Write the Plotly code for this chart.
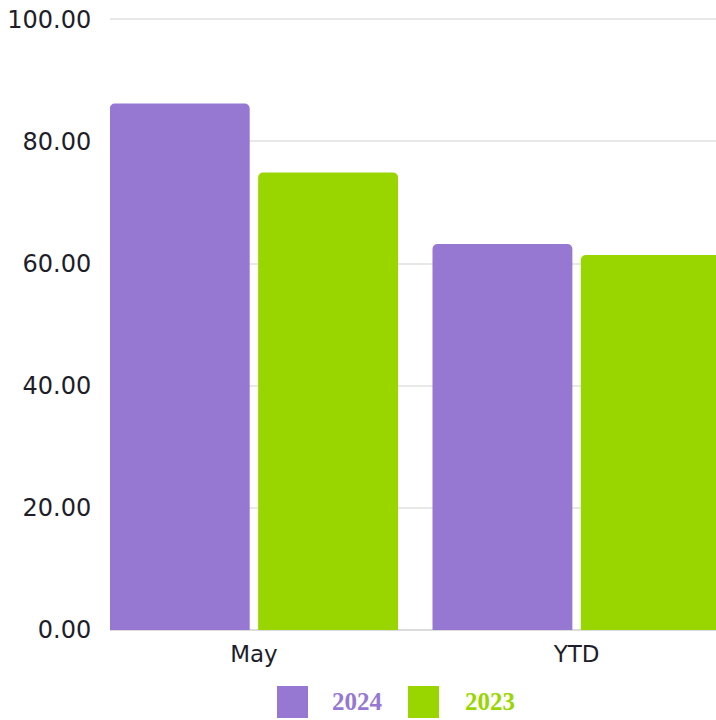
import plotly.graph_objects as go

categories = ["May", "YTD"]
series_names = ["2024", "2023"]
values_2024 = [86.2, 63.2]
values_2023 = [74.9, 61.4]
series_colors = ["#9678D3", "#99D600"]
y_ticks = [0, 20, 40, 60, 80, 100]
y_tick_labels = ["0.00", "20.00", "40.00", "60.00", "80.00", "100.00"]

fig = go.Figure()
for name, vals, col in zip(series_names, [values_2024, values_2023], series_colors):
    fig.add_trace(go.Bar(
        x=categories, y=vals, name=name,
        marker=dict(color=col, line=dict(width=0)),
        showlegend=False, hoverinfo="skip",
    ))

# custom legend (large squares + serif bold labels)
PL, PW, PB, PH = 110, 606, 630, 612
legend_sq_x = [277, 408]
legend_tx_x = [330, 463]
for i, (name, col) in enumerate(zip(series_names, series_colors)):
    fig.add_shape(type="rect", xref="paper", yref="paper",
                  x0=(legend_sq_x[i] - PL) / PW, x1=(legend_sq_x[i] + 31 - PL) / PW,
                  y0=(PB - 718) / PH, y1=(PB - 686) / PH,
                  fillcolor=col, line=dict(width=0))
    fig.add_annotation(xref="paper", yref="paper",
                       x=(legend_tx_x[i] - PL) / PW, y=(PB - 701) / PH,
                       xanchor="left", yanchor="middle", showarrow=False,
                       text="<b>" + name + "</b>",
                       font=dict(family="Liberation Serif", size=25, color=col))

fig.update_layout(
    width=716, height=720,
    margin=dict(l=110, r=0, t=18, b=90),
    paper_bgcolor="white", plot_bgcolor="white",
    barmode="group", bargap=0.0806, bargroupgap=0.057,
    barcornerradius=5,
    showlegend=False,
    font=dict(family="DejaVu Sans", color="#222222"),
)
fig.update_xaxes(range=[-0.446, 1.432], showgrid=False, showline=False, zeroline=False,
                 ticks="outside", ticklen=3, tickcolor="rgba(0,0,0,0)",
                 tickfont=dict(size=23, family="DejaVu Sans", color="#1e1e2a"))
fig.update_yaxes(range=[0, 100.2], tickvals=y_ticks, ticktext=y_tick_labels,
                 showgrid=True, gridcolor="#e8e8e8", gridwidth=2,
                 zeroline=True, zerolinecolor="#dcdcdc", zerolinewidth=2,
                 ticks="outside", ticklen=13, tickcolor="rgba(0,0,0,0)",
                 tickfont=dict(size=24, family="DejaVu Sans", color="#1e1e2a"))

fig.write_html("out.html", config={"displayModeBar": False},
               post_script="document.body.style.margin='0';document.body.style.overflow='hidden';")
